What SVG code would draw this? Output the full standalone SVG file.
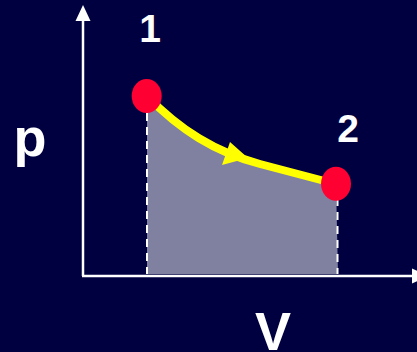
<svg xmlns="http://www.w3.org/2000/svg" width="417" height="352" viewBox="0 0 417 352">
  <style>
    .lbl { font-family: "Liberation Sans", Arial, sans-serif; font-weight: bold; fill: #ffffff; }
    .axis { stroke: #ffffff; stroke-width: 2.5; fill: none; }
    .dash { stroke: #ffffff; stroke-width: 2; stroke-dasharray: 8 6; fill: none; }
    .pt { fill: #ff0033; }
  </style>
  <defs>
    <marker id="ah" viewBox="0 0 10 10" refX="9" refY="5" markerWidth="6" markerHeight="6" orient="auto" markerUnits="userSpaceOnUse">
      <path d="M0,0 L10,5 L0,10 Z" fill="#ffffff"/>
    </marker>
  </defs>
  <rect width="417" height="352" fill="#000040"/>
  <g id="area">
    <path d="M147,96 C180,130 215,152 260,164 L336,184 L338,274 L147,274 Z" fill="#8080a0"/>
  </g>
  <g id="connectors">
    <line class="axis" x1="83" y1="276" x2="83" y2="20"/>
    <polygon points="83,5 75.5,21 90.5,21" fill="#ffffff"/>
    <line class="axis" x1="82" y1="276" x2="414" y2="276"/>
    <polygon points="428,276 412,268.5 412,283.5" fill="#ffffff"/>
    <line class="dash" x1="147" y1="113" x2="147" y2="274"/>
    <line class="dash" x1="337.5" y1="198" x2="337.5" y2="274"/>
    <path d="M147,96 C180,130 215,152 260,164 L336,184" fill="none" stroke="#ffff00" stroke-width="8"/>
    <polygon points="230,142 222,165 248,158" fill="#ffff00"/>
  </g>
  <g id="node1">
    <ellipse class="pt" cx="146.7" cy="96" rx="15" ry="17"/>
    <text class="lbl" x="150" y="42" font-size="39" text-anchor="middle">1</text>
  </g>
  <g id="node2">
    <ellipse class="pt" cx="336" cy="183.7" rx="15" ry="17"/>
    <text class="lbl" x="348" y="142" font-size="39" text-anchor="middle">2</text>
  </g>
  <g id="labels">
    <text class="lbl" x="30" y="156" font-size="54" text-anchor="middle">p</text>
    <text class="lbl" x="273" y="350" font-size="54" text-anchor="middle">V</text>
  </g>
</svg>
